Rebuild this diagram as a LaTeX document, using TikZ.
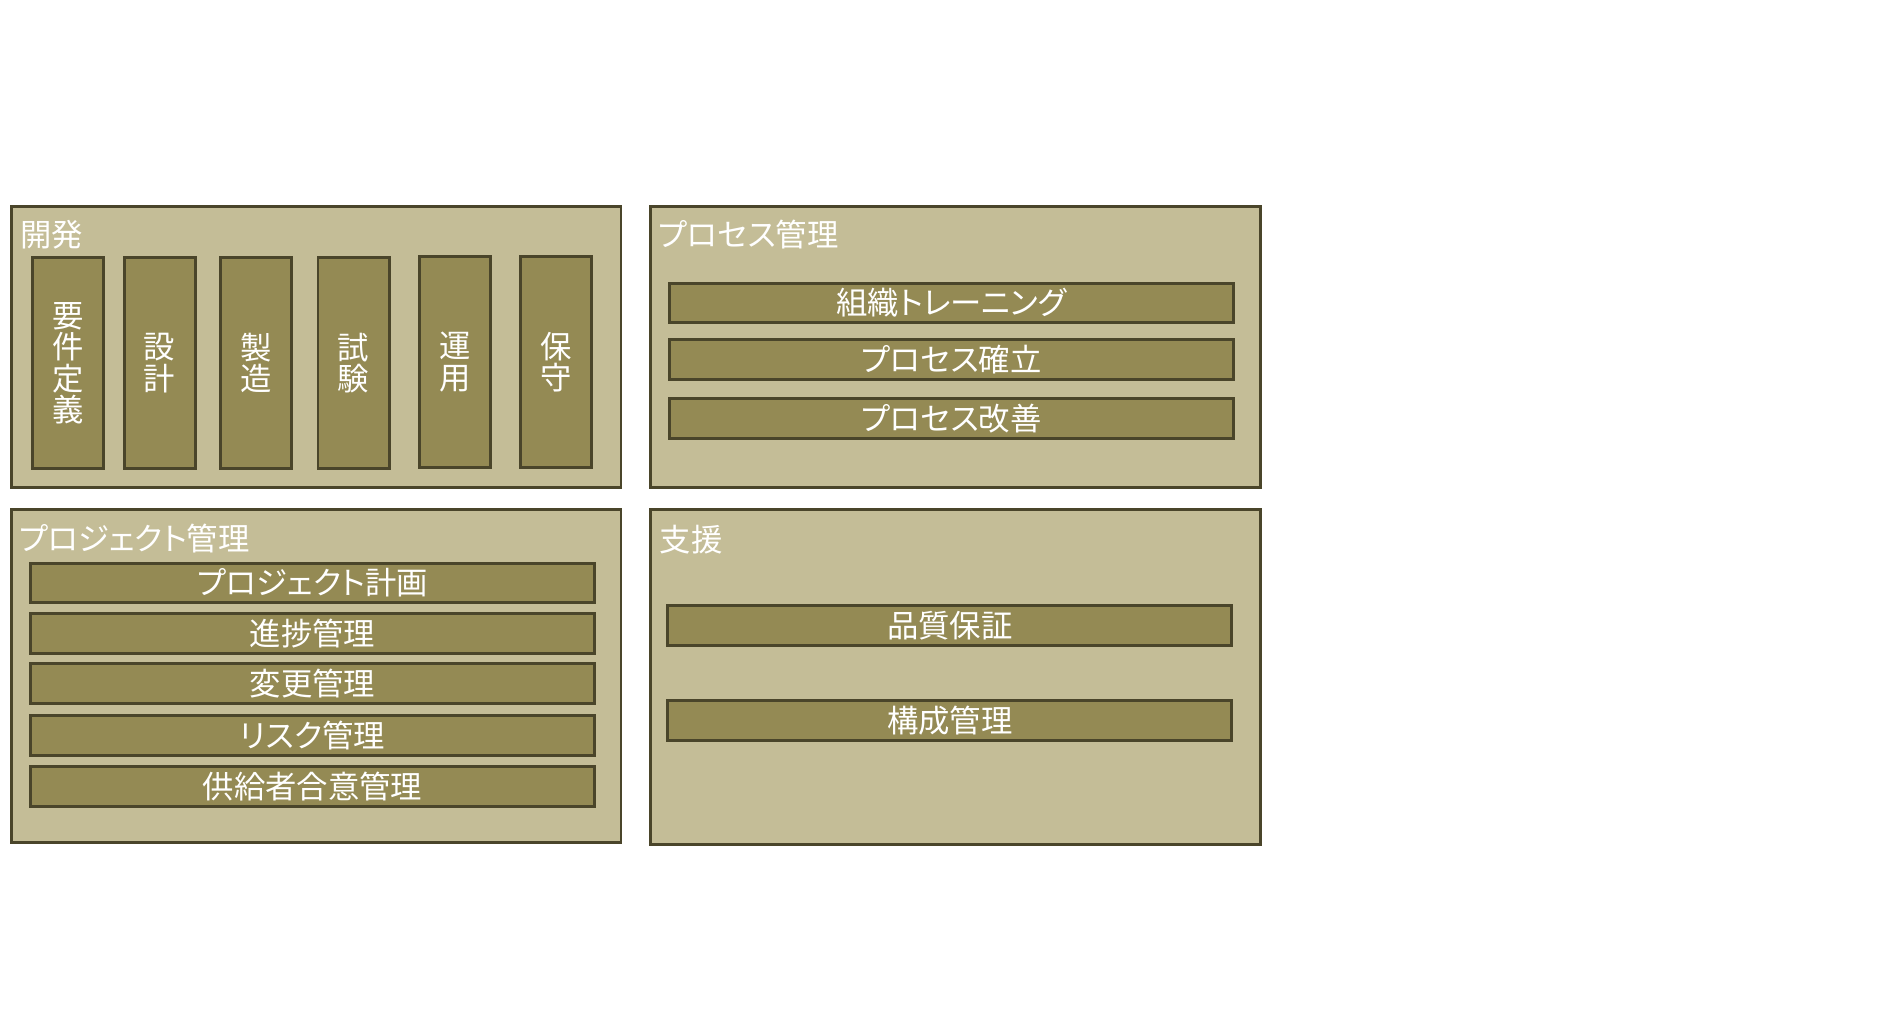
\documentclass[tikz,border=0pt]{standalone}
\usepackage{fontspec}
\setmainfont{Noto Sans CJK JP}[RawFeature=+palt]
\definecolor{panelfill}{HTML}{C4BD97}
\definecolor{barfill}{HTML}{948A54}
\definecolor{panelline}{HTML}{4A452A}
\newcommand{\jpsize}{\fontsize{7.4}{7.4}\selectfont}
\begin{document}
\begin{tikzpicture}[x=0.01cm, y=-0.01cm,
    panel/.style={draw=panelline, fill=panelfill, line width=0.7pt, anchor=north west, inner sep=0pt},
    col/.style={draw=panelline, fill=barfill, line width=0.7pt, minimum width=0.59cm, minimum height=1.75cm,
        inner sep=0pt, text=white, align=center, font=\jpsize},
    bar/.style={draw=panelline, fill=barfill, line width=0.7pt, minimum width=4.68cm, minimum height=0.33cm,
        inner sep=0pt, text=white, font=\jpsize},
    heading/.style={anchor=west, inner sep=0pt, text=white, font=\jpsize}]
        \useasboundingbox (0,0) rectangle (1569,850);

        % Panels
        \node[panel, minimum width=5.06cm, minimum height=2.33cm] (dev) at (8,170) {};
        \node[panel, minimum width=5.06cm, minimum height=2.33cm] (proc) at (539,170) {};
        \node[panel, minimum width=5.06cm, minimum height=2.76cm] (proj) at (8,422) {};
        \node[panel, minimum width=5.06cm, minimum height=2.78cm] (supp) at (539,422) {};

        % Headings
        \node[heading] (devt) at (16,195) {開発};
        \node[heading] (proct) at (546,195) {プロセス管理};
        \node[heading] (projt) at (15,447) {プロジェクト管理};
        \node[heading] (suppt) at (547,448) {支援};

        % Development phases
        \node[col] (req) at (56.5,301.5) {要\\件\\定\\義};
        \node[col] (des) at (132.5,301.5) {設\\計};
        \node[col] (mfg) at (212.5,301.5) {製\\造};
        \node[col] (tst) at (293.5,301.5) {試\\験};
        \node[col] (ops) at (377.5,300.5) {運\\用};
        \node[col] (mnt) at (461.5,300.5) {保\\守};

        % Process management
        \node[bar] (org) at (790,251.5) {組織トレーニング};
        \node[bar, below of=org, node distance=0.47cm] (est) {プロセス確立};
        \node[bar, below of=est, node distance=0.49cm] (imp) {プロセス改善};

        % Project management
        \node[bar] (plan) at (259.5,484) {プロジェクト計画};
        \node[bar, below of=plan, node distance=0.42cm] (prog) {進捗管理};
        \node[bar, below of=prog, node distance=0.415cm] (chg) {変更管理};
        \node[bar, below of=chg, node distance=0.43cm] (risk) {リスク管理};
        \node[bar, below of=risk, node distance=0.42cm] (sup) {供給者合意管理};

        % Support
        \node[bar] (qa) at (788.5,519.5) {品質保証};
        \node[bar, below of=qa, node distance=0.785cm] (cm) {構成管理};
\end{tikzpicture}
\end{document}
